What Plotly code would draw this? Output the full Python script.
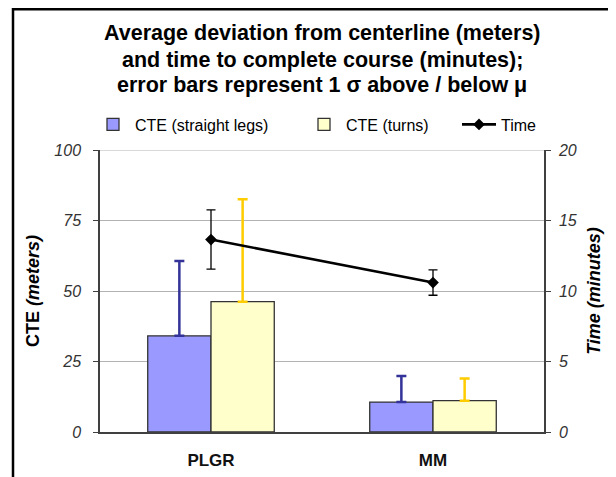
import plotly.graph_objects as go

categories = ["PLGR", "MM"]
cte_straight = [34.1, 10.6]
cte_straight_sd = [26.5, 9.3]
cte_turns = [46.2, 11.1]
cte_turns_sd = [36.3, 7.9]
time_mean = [13.65, 10.6]
time_sd = [2.1, 0.9]

title_lines = [
    "Average deviation from centerline (meters)",
    "and time to complete course (minutes);",
    "error bars represent 1 \u03c3 above / below \u03bc",
]

FONT = "Liberation Sans, Arial, sans-serif"

# page offset (browser body margin) compensation
OFF = 8
W, H = 616 - OFF, 477 - OFF
L, R, T, B = 100 - OFF, 616 - 544, 150 - OFF, 477 - 432
pw, ph = W - L - R, H - T - B

def px(x):
    return (x - OFF - L) / pw

def py(y):
    return (H - B - (y - OFF)) / ph

fig = go.Figure()
fig.add_trace(go.Bar(
    x=categories, y=cte_straight, name="CTE (straight legs)", legend="legend",
    marker=dict(color="#9999FF", line=dict(color="#333333", width=1.3)),
    error_y=dict(type="data", array=cte_straight_sd, arrayminus=[0, 0], symmetric=False,
                 color="#333399", thickness=2.5, width=5),
))
fig.add_trace(go.Bar(
    x=categories, y=cte_turns, name="CTE (turns)", legend="legend2",
    marker=dict(color="#FFFFCC", line=dict(color="#333333", width=1.3)),
    error_y=dict(type="data", array=cte_turns_sd, arrayminus=[0, 0], symmetric=False,
                 color="#FFCC00", thickness=2.5, width=5),
))
fig.add_trace(go.Scatter(
    x=categories, y=time_mean, name="Time", yaxis="y2", mode="lines+markers", legend="legend3",
    line=dict(color="black", width=2.6),
    marker=dict(symbol="diamond", size=9, color="black"),
    error_y=dict(type="data", array=time_sd, color="black", thickness=1.3, width=4.5),
))

annotations = []
for txt, yc in zip(title_lines, [33, 60, 85]):
    annotations.append(dict(text="<b>" + txt + "</b>", x=0.5, y=py(yc), xref="paper", yref="paper",
                            showarrow=False, xanchor="center", yanchor="middle",
                            font=dict(family=FONT, size=21.5, color="black")))

def leg(xleft):
    return dict(orientation="h", x=px(xleft), y=py(124.5), xanchor="left", yanchor="middle",
                font=dict(family=FONT, size=16, color="black"), itemwidth=34,
                bgcolor="rgba(0,0,0,0)", borderwidth=0)

fig.update_layout(
    width=W, height=H,
    margin=dict(l=L, r=R, t=T, b=B, autoexpand=False),
    paper_bgcolor="white", plot_bgcolor="white",
    font=dict(family=FONT, size=16, color="black"),
    barmode="group", bargap=0.43, bargroupgap=0,
    showlegend=True,
    legend=leg(91), legend2=leg(302), legend3=leg(457),
    annotations=annotations,
    xaxis=dict(showline=True, linecolor="#404040", linewidth=1.5, ticks="", showgrid=False,
               tickfont=dict(family=FONT, size=17, weight="bold", color="#111"),
               ticklabelstandoff=12),
    yaxis=dict(range=[0, 100], dtick=25, showline=True, linecolor="#404040", linewidth=1.5,
               ticks="outside", ticklen=5, tickcolor="#404040", showgrid=True, gridcolor="#b3b3b3",
               gridwidth=1.2, zeroline=False,
               tickfont=dict(family=FONT, size=16, style="italic", color="#333"),
               ticklabelstandoff=9,
               title=dict(text="<b>CTE <i>(meters)</i></b>", font=dict(family=FONT, size=18), standoff=10)),
    yaxis2=dict(range=[0, 20], dtick=5, overlaying="y", side="right", showline=True,
                linecolor="#404040", linewidth=1.5, ticks="outside", ticklen=5, tickcolor="#404040",
                showgrid=False, zeroline=False,
                tickfont=dict(family=FONT, size=16, style="italic", color="#333"),
                ticklabelstandoff=5,
                title=dict(text="<b><i>Time (minutes)</i></b>", font=dict(family=FONT, size=18), standoff=12)),
    shapes=[
        dict(type="line", xref="paper", yref="y", x0=0, x1=1, y0=100, y1=100,
             line=dict(color="#b3b3b3", width=1.2), layer="below"),
        dict(type="rect", xref="paper", yref="paper", x0=px(13), x1=px(614), y0=py(495), y1=py(OFF + 1.2),
             line=dict(color="black", width=2.5), fillcolor="rgba(0,0,0,0)", layer="above"),
    ],
)

fig.write_html("out.html")
